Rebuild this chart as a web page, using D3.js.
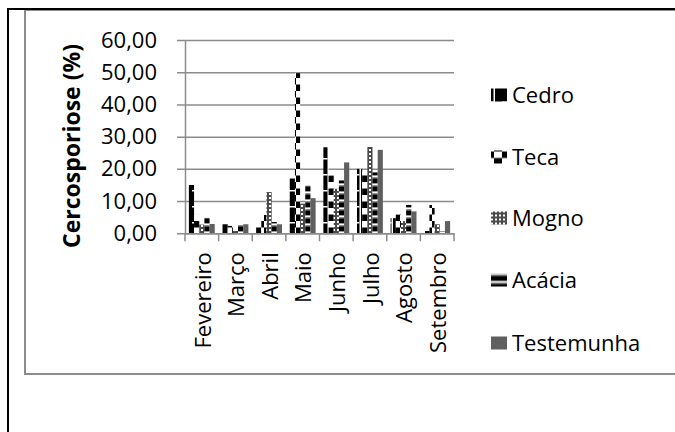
<!DOCTYPE html>
<html>
<head>
<meta charset="utf-8">
<script src="https://cdn.jsdelivr.net/npm/d3@7/dist/d3.min.js"></script>
<style>
  body { margin: 0; background: #fff; }
  svg { display: block; }
  text { font-family: "Open Sans", sans-serif; fill: #000; }
</style>
</head>
<body>
<div id="chart"></div>
<script>
(function () {
  const months = ["Fevereiro", "Março", "Abril", "Maio", "Junho", "Julho", "Agosto", "Setembro"];
  const seriesNames = ["Cedro", "Teca", "Mogno", "Acácia", "Testemunha"];

  // % de cercosporiose por mês
  const cedro      = [15.0, 2.8, 1.8, 17.0, 26.7, 20.0, 4.7, 0.7];
  const teca       = [5.7, 2.3, 5.7, 49.7, 18.0, 19.1, 5.9, 8.8];
  const mogno      = [2.7, 0.7, 12.8, 9.2, 13.8, 26.8, 3.8, 2.8];
  const acacia     = [4.8, 2.8, 3.5, 14.8, 16.4, 18.9, 8.8, 0.7];
  const testemunha = [2.9, 2.8, 2.8, 10.9, 22.0, 25.9, 6.8, 3.8];

  const yTicks = [0, 10, 20, 30, 40, 50, 60];

  const values = [cedro, teca, mogno, acacia, testemunha];
  const W = 675, H = 432;

  const svg = d3.select("#chart").append("svg")
    .attr("width", W)
    .attr("height", H);

  svg.append("rect").attr("width", W).attr("height", H).attr("fill", "#fff");

  const defs = svg.append("defs");

  // preenchimentos tipo Excel; tx/ty desloca o padrão (usado na legenda)
  function makePattern(i, id, tx, ty) {
    const tile = [[16, 16], [16, 13], [4, 4], [8, 8]][i];
    const p = defs.append("pattern").attr("id", id)
      .attr("patternUnits", "userSpaceOnUse")
      .attr("width", tile[0]).attr("height", tile[1])
      .attr("patternTransform", "translate(" + tx + "," + ty + ")");
    const r = (x, yy, w, h, c) => p.append("rect")
      .attr("x", x).attr("y", yy).attr("width", w).attr("height", h).attr("fill", c);
    if (i === 0) {
      r(0, 0, 16, 16, "#000");
      r(7.5, 0, 1.5, 16, "#fff");
      r(0, 14, 7.5, 1.5, "#fff");
    } else if (i === 1) {
      r(0, 0, 16, 13, "#fff");
      r(0, 0, 8, 6.5, "#000");
      r(8, 6.5, 8, 6.5, "#000");
    } else if (i === 2) {
      r(0, 0, 4, 4, "#4a4a4a");
      r(1, 1, 2, 2, "#fff");
    } else {
      r(0, 0, 8, 8, "#000");
      r(0, 0, 8, 1.5, "#fff");
      r(0, 1.5, 8, 1, "#999");
      r(0, 7, 8, 1, "#999");
    }
    return "url(#" + id + ")";
  }

  const fills = [0, 1, 2, 3].map(i => makePattern(i, "p" + i, 0, 0)).concat(["#606060"]);

  // frames
  svg.append("rect")
    .attr("x", 25).attr("y", 10).attr("width", 680).attr("height", 364)
    .attr("fill", "none").attr("stroke", "#8c8c8c").attr("stroke-width", 2);
  svg.append("path")
    .attr("d", "M8," + H + " V9 H" + W)
    .attr("fill", "none").attr("stroke", "#000").attr("stroke-width", 2);

  const x0 = d3.scaleBand().domain(months).range([185, 454]).padding(0);
  const x1 = d3.scaleBand().domain(seriesNames).range([0, x0.bandwidth()])
    .paddingInner(0).paddingOuter(0.75);
  const y = d3.scaleLinear().domain([0, 60]).range([233.3, 40]);

  // gridlines + y axis
  const yAxis = svg.append("g")
    .attr("transform", "translate(185,0)")
    .call(d3.axisLeft(y).tickValues(yTicks)
      .tickSize(-(454 - 185)).tickSizeOuter(0).tickPadding(28)
      .tickFormat(d => d3.format(".2f")(d).replace(".", ",")));
  yAxis.select(".domain").attr("stroke", "#8c8c8c").attr("stroke-width", 1.5);
  yAxis.selectAll(".tick line")
    .attr("x1", -8)
    .attr("stroke", "#8c8c8c").attr("stroke-width", 1.5);
  yAxis.selectAll(".tick text")
    .style("font-size", "22px").style("font-family", "'Open Sans', sans-serif")
    .attr("fill", "#000");

  // bars
  const groups = svg.append("g").selectAll("g")
    .data(seriesNames)
    .join("g")
    .attr("fill", (d, i) => fills[i]);

  groups.selectAll("rect")
    .data((s, i) => values[i].map((v, j) => ({ month: months[j], v: v, s: s })))
    .join("rect")
    .attr("x", d => x0(d.month) + x1(d.s))
    .attr("y", d => y(d.v))
    .attr("width", x1.bandwidth())
    .attr("height", d => y(0) - y(d.v));

  // x axis
  const xAxis = svg.append("g")
    .attr("transform", "translate(0," + y(0) + ")")
    .call(d3.axisBottom(x0).tickSize(0).tickSizeOuter(0).tickPadding(0));
  xAxis.select(".domain").attr("stroke", "#8c8c8c").attr("stroke-width", 1.5);
  xAxis.selectAll(".tick text")
    .style("font-size", "22px").style("font-family", "'Open Sans', sans-serif")
    .attr("fill", "#000")
    .attr("text-anchor", "end")
    .attr("dy", "0.35em")
    .attr("transform", "translate(1,19) rotate(-90)");
  const bounds = months.map(m => x0(m)).concat([x0.range()[1]]);
  xAxis.selectAll(".sep")
    .data(bounds)
    .join("line")
    .attr("class", "sep")
    .attr("x1", d => d).attr("x2", d => d)
    .attr("y1", 0).attr("y2", 8)
    .attr("stroke", "#8c8c8c").attr("stroke-width", 1.5);

  // y title
  svg.append("text")
    .attr("transform", "translate(80,146) rotate(-90)")
    .attr("text-anchor", "middle")
    .style("font-size", "23px")
    .style("font-weight", "bold")
    .text("Cercosporiose (%)");

  // legend
  const legendX = 491;
  const legendY = [95, 157, 218, 280, 343];
  const legendFills = seriesNames.map((s, i) =>
    i < 4 ? makePattern(i, "lp" + i, legendX, legendY[i] - 6.5) : fills[i]);
  const legend = svg.append("g").selectAll("g")
    .data(seriesNames)
    .join("g")
    .attr("transform", (d, i) => "translate(" + legendX + "," + legendY[i] + ")");
  legend.append("rect")
    .attr("x", 0).attr("y", -6.5)
    .attr("width", 16).attr("height", 13)
    .attr("fill", (d, i) => legendFills[i]);
  legend.append("text")
    .attr("x", 21)
    .attr("dy", "0.36em")
    .style("font-size", "22px")
    .text(d => d);
})();
</script>
</body>
</html>
